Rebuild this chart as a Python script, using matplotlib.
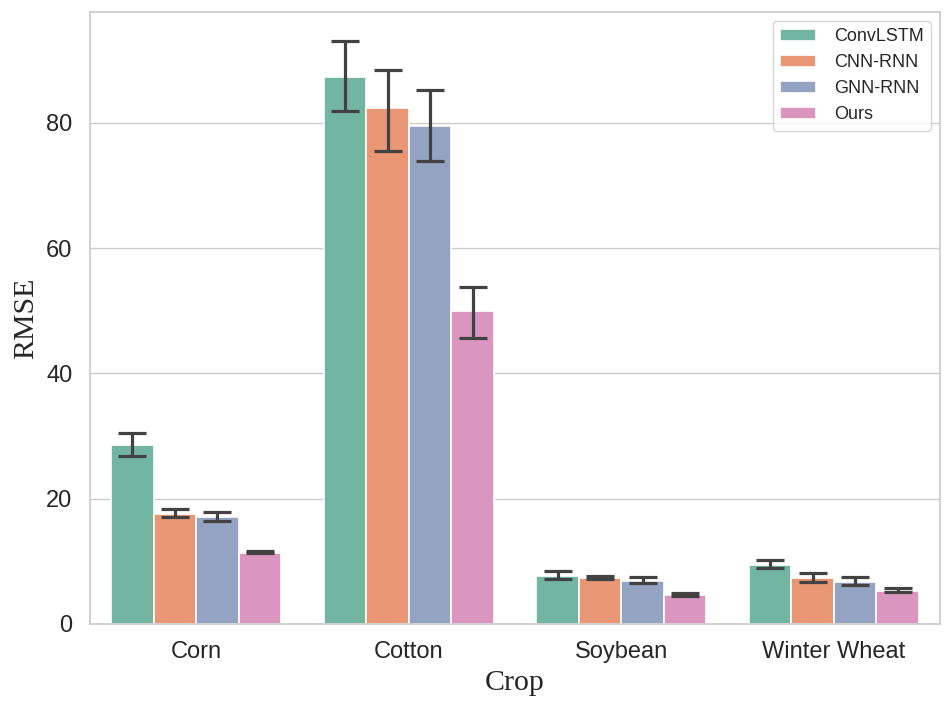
import numpy as np
import matplotlib
matplotlib.use("Agg")
import matplotlib.pyplot as plt
import seaborn as sns

crops = ["Corn", "Cotton", "Soybean", "Winter Wheat"]
models = ["ConvLSTM", "CNN-RNN", "GNN-RNN", "Ours"]

# mean RMSE per model, one value per crop
rmse = {
    "ConvLSTM": [28.5, 87.3, 7.7, 9.4],
    "CNN-RNN": [17.5, 82.4, 7.3, 7.3],
    "GNN-RNN": [17.0, 79.5, 6.9, 6.7],
    "Ours": [11.4, 50.0, 4.6, 5.3],
}
# error bar ends (lower, upper)
err_low = {
    "ConvLSTM": [26.8, 81.9, 7.1, 9.0],
    "CNN-RNN": [17.0, 75.5, 7.2, 6.7],
    "GNN-RNN": [16.5, 73.9, 6.6, 6.2],
    "Ours": [11.3, 45.6, 4.5, 5.1],
}
err_high = {
    "ConvLSTM": [30.45, 93.1, 8.4, 10.2],
    "CNN-RNN": [18.4, 88.5, 7.6, 8.2],
    "GNN-RNN": [17.9, 85.2, 7.5, 7.55],
    "Ours": [11.65, 53.8, 4.9, 5.8],
}

sns.set_theme(style="whitegrid")
plt.rcParams['font.family'] = ['Liberation Sans', 'DejaVu Sans']

colors = sns.color_palette("Set2", desat=0.75)

fig = plt.figure(figsize=(9.52, 7.09), dpi=100)
ax = fig.add_axes([0.0945, 0.12, 0.893, 0.863])

x = np.arange(len(crops))
width = 0.2
for i, m in enumerate(models):
    pos = x - 0.3 + i * width
    vals = np.array(rmse[m])
    lo = vals - np.array(err_low[m])
    hi = np.array(err_high[m]) - vals
    ax.bar(pos, vals, width, color=colors[i], edgecolor="white", linewidth=1.2, label=m)
    ax.errorbar(pos, vals, yerr=[lo, hi], fmt="none", ecolor="#424242",
                elinewidth=2.3, capsize=10, capthick=2.3)

ax.set_xlim(-0.5, 3.5)
ax.set_ylim(0, 97.7)
ax.set_xticks(x)
ax.set_xticklabels(crops)
ax.set_yticks([0, 20, 40, 60, 80])
ax.tick_params(axis="both", labelsize=17, pad=6.5)
ax.xaxis.grid(False)
ax.set_xlabel("Crop", family="Liberation Serif", fontsize=21.5, labelpad=5)
ax.set_ylabel("RMSE", family="Liberation Serif", fontsize=21.5, labelpad=5)
ax.legend(loc="upper right", fontsize=13, borderaxespad=0.5, handletextpad=1.0)

plt.savefig("out.png", dpi=100)
